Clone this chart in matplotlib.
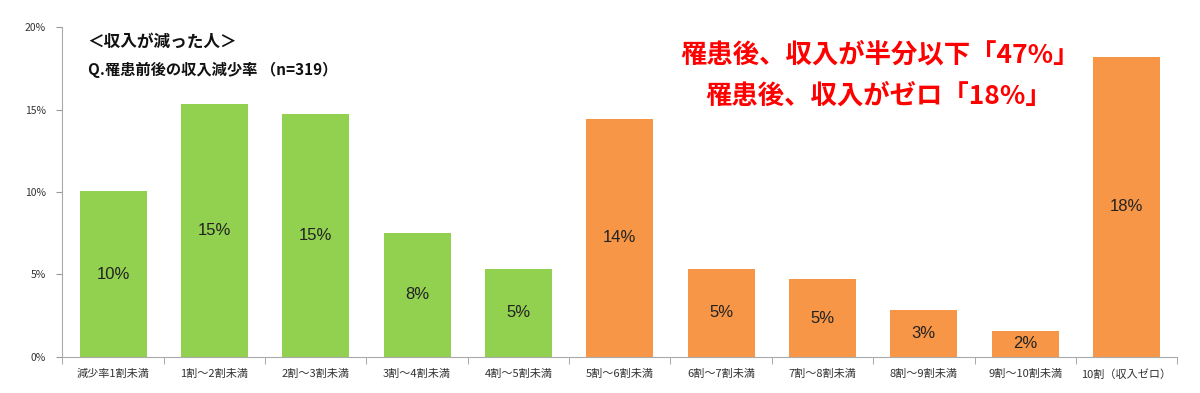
import numpy as np
import matplotlib.pyplot as plt
from matplotlib.ticker import FixedLocator, PercentFormatter

plt.rcParams['font.family'] = ['Noto Sans CJK JP', 'DejaVu Sans']

# data
categories = ['減少率1割未満', '1割～2割未満', '2割～3割未満', '3割～4割未満', '4割～5割未満',
              '5割～6割未満', '6割～7割未満', '7割～8割未満', '8割～9割未満', '9割～10割未満',
              '10割（収入ゼロ）']
values = [10.03, 15.36, 14.73, 7.52, 5.33, 14.42, 5.33, 4.70, 2.82, 1.57, 18.18]
labels = ['10%', '15%', '15%', '8%', '5%', '14%', '5%', '5%', '3%', '2%', '18%']
n_green = 5

green = '#92D050'
orange = '#F79646'
colors = [green if i < n_green else orange for i in range(len(values))]

fig = plt.figure(figsize=(12, 3.93), dpi=100)
ax = fig.add_axes([0.052, 0.092, 0.929, 0.839])

x = np.arange(len(values))
bars = ax.bar(x, values, width=0.66, color=colors, zorder=2)

for b, lab in zip(bars, labels):
    ax.text(b.get_x() + b.get_width()/2, b.get_height()/2, lab,
            ha='center', va='center', fontsize=12, color='#222222',
            family=['Liberation Sans', 'DejaVu Sans'])

ax.set_xlim(-0.5, len(values) - 0.5)
ax.set_ylim(0, 20)
ax.set_yticks([0, 5, 10, 15, 20])
ax.yaxis.set_major_formatter(PercentFormatter(decimals=0))
ax.tick_params(axis='y', labelsize=7.5, labelcolor='#333333', length=4, color='#999999', pad=8)

ax.set_xticks(x)
ax.set_xticklabels(categories)
ax.tick_params(axis='x', which='major', length=0, labelsize=8, labelcolor='#333333', pad=9)
ax.xaxis.set_minor_locator(FixedLocator(np.arange(-0.5, len(values), 1)))
ax.tick_params(axis='x', which='minor', length=5, color='#999999', direction='out')

for s in ['top', 'right']:
    ax.spines[s].set_visible(False)
for s in ['left', 'bottom']:
    ax.spines[s].set_color('#aaaaaa')

# headings
fig.text(0.073, 0.893, '＜収入が減った人＞', fontsize=12, fontweight='bold', color='#111111', va='center')
fig.text(0.073, 0.822, 'Q.罹患前後の収入減少率 （n=319）', fontsize=11, fontweight='bold', color='#111111', va='center')

fig.text(0.733, 0.86, '罹患後、収入が半分以下「47%」', fontsize=19, fontweight='bold', color='#FF0000',
         ha='center', va='center')
fig.text(0.732, 0.755, '罹患後、収入がゼロ「18%」', fontsize=19, fontweight='bold', color='#FF0000',
         ha='center', va='center')

fig.savefig('out.png', dpi=100)
